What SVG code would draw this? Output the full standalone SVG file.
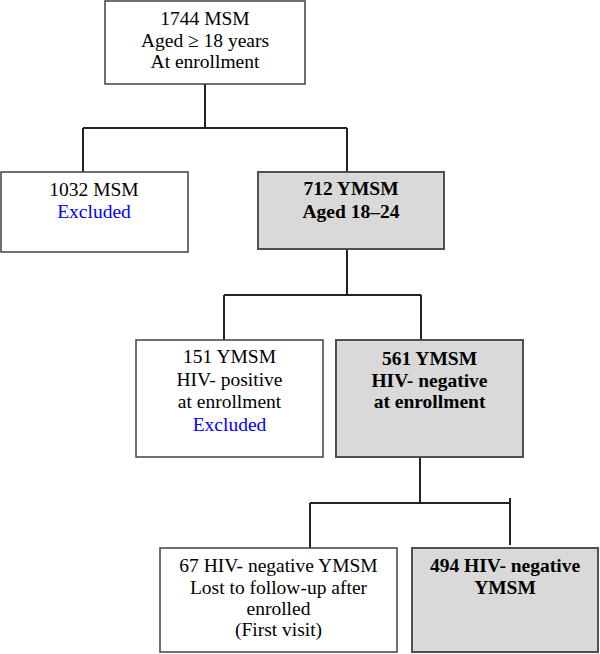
<svg xmlns="http://www.w3.org/2000/svg" width="600" height="654" viewBox="0 0 600 654">
<style>
.box{fill:#ffffff;stroke:#404040;stroke-width:1.5}
.sh{fill:#d9d9d9;stroke:#505050;stroke-width:2}
.t{font-family:"Liberation Serif","Times New Roman",serif;font-size:19.5px;fill:#000;text-anchor:middle}
.b{font-weight:bold}
.ex{fill:#0000ff}
.c{fill:none;stroke:#222;stroke-width:2}
</style>
<rect width="600" height="654" fill="#fff"/>
<g id="connectors">
<path class="c" d="M205,84 V128 M83,128 H347 M83,128 V172 M347,128 V172"/>
<path class="c" d="M347,250 V295 M224,295 H421 M224,295 V340 M421,295 V340"/>
<path class="c" d="M420,457 V503 M310,503 H510 M310,503 V548 M510,498 V545"/>
</g>
<g id="n1744">
<rect class="box" x="105" y="1" width="200" height="83"/>
<text class="t" x="205" y="25">1744 MSM</text>
<text class="t" x="205" y="47">Aged ≥ 18 years</text>
<text class="t" x="205" y="68">At enrollment</text>
</g>
<g id="n1032">
<rect class="box" x="1" y="172" width="187" height="80"/>
<text class="t" x="94" y="196">1032 MSM</text>
<text class="t ex" x="94" y="218">Excluded</text>
</g>
<g id="n712">
<rect class="sh" x="258" y="172" width="186" height="77"/>
<text class="t b" x="351" y="195">712 YMSM</text>
<text class="t b" x="351" y="218">Aged 18–24</text>
</g>
<g id="n151">
<rect class="box" x="136" y="340" width="187" height="117"/>
<text class="t" x="229.5" y="363">151 YMSM</text>
<text class="t" x="229.5" y="386">HIV- positive</text>
<text class="t" x="229.5" y="408">at enrollment</text>
<text class="t ex" x="229.5" y="431">Excluded</text>
</g>
<g id="n561">
<rect class="sh" x="336" y="340" width="187" height="117"/>
<text class="t b" x="429.5" y="365">561 YMSM</text>
<text class="t b" x="429.5" y="387">HIV- negative</text>
<text class="t b" x="429.5" y="408">at enrollment</text>
</g>
<g id="n67">
<rect class="box" x="160" y="548" width="237" height="104"/>
<text class="t" x="278.5" y="572">67 HIV- negative YMSM</text>
<text class="t" x="278.5" y="594">Lost to follow-up after</text>
<text class="t" x="278.5" y="615">enrolled</text>
<text class="t" x="278.5" y="636">(First visit)</text>
</g>
<g id="n494">
<rect class="sh" x="412" y="548" width="186" height="104"/>
<text class="t b" x="505" y="572">494 HIV- negative</text>
<text class="t b" x="505" y="594">YMSM</text>
</g>
</svg>
